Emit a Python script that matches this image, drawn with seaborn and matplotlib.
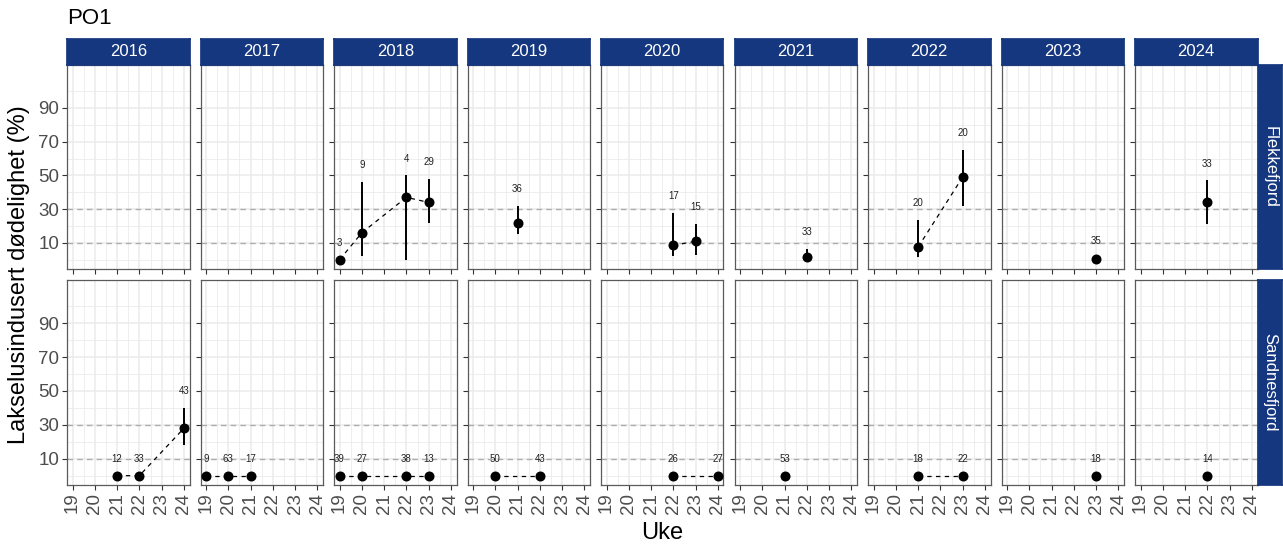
import matplotlib
matplotlib.use("Agg")
import matplotlib.pyplot as plt
import seaborn as sns
import pandas as pd

# ---------------- data ----------------
years = [2016, 2017, 2018, 2019, 2020, 2021, 2022, 2023, 2024]
locations = ["Flekkefjord", "Sandnesfjord"]
week_ticks = [19, 20, 21, 22, 23, 24]
y_ticks = [10, 30, 50, 70, 90]
ref_levels = [10, 30]

obs_location = (["Flekkefjord"] * 12) + (["Sandnesfjord"] * 19)
obs_year = [2018, 2018, 2018, 2018, 2019, 2020, 2020, 2021, 2022, 2022, 2023, 2024,
            2016, 2016, 2016, 2017, 2017, 2017, 2018, 2018, 2018, 2018,
            2019, 2019, 2020, 2020, 2021, 2022, 2022, 2023, 2024]
obs_week = [19, 20, 22, 23, 21, 22, 23, 22, 21, 23, 23, 22,
            21, 22, 24, 19, 20, 21, 19, 20, 22, 23,
            20, 22, 22, 24, 21, 21, 23, 23, 22]
mortality = [0, 16, 37, 34, 22, 8.5, 11, 1.5, 7.5, 49, 0.5, 34,
             0, 0, 28, 0, 0, 0, 0, 0, 0, 0,
             0, 0, 0, 0, 0, 0, 0, 0, 0]
ci_low = [0, 2, 0, 22, 15, 2, 3, 0, 1.5, 32, 0, 21,
          0, 0, 18, 0, 0, 0, 0, 0, 0, 0,
          0, 0, 0, 0, 0, 0, 0, 0, 0]
ci_high = [0, 46, 50, 48, 32, 28, 21, 6.4, 23.6, 65, 1.4, 47,
           0, 0, 40, 0, 0, 0, 0, 0, 0, 0,
           0, 0, 0, 0, 0, 0, 0, 0, 0]
n_fish = [3, 9, 4, 29, 36, 17, 15, 33, 20, 20, 35, 33,
          12, 33, 43, 9, 63, 17, 39, 27, 38, 13,
          50, 43, 26, 27, 53, 18, 22, 18, 14]

df = pd.DataFrame({"lokalitet": obs_location, "aar": obs_year, "uke": obs_week,
                   "dod": mortality, "lo": ci_low, "hi": ci_high, "n": n_fish})

# ---------------- style ----------------
sns.set_theme(style="white")
plt.rcParams["font.family"] = ["Liberation Sans", "DejaVu Sans"]

STRIP = "#15377F"
W, H = 1283, 545
fig = plt.figure(figsize=(W / 100, H / 100), dpi=100)


def rect(x0, y0, x1, y1):
    return [x0 / W, 1 - y1 / H, (x1 - x0) / W, (y1 - y0) / H]


left, pw, gap = 67.0, 122.5, 11.0
row_y = [(65, 269), (280, 485)]

for r, loc in enumerate(locations):
    y0, y1 = row_y[r]
    for c, yr in enumerate(years):
        x0 = left + c * (pw + gap)
        x1 = x0 + pw
        ax = fig.add_axes(rect(x0, y0, x1, y1))
        ax.set_facecolor("white")
        sub = df[(df.lokalitet == loc) & (df.aar == yr)].sort_values("uke")

        ax.set_xlim(18.75, 24.25)
        ax.set_ylim(-5.5, 115.5)
        ax.set_xticks(week_ticks)
        ax.set_xticks([19.5, 20.5, 21.5, 22.5, 23.5], minor=True)
        ax.set_yticks(y_ticks)
        ax.set_yticks([0, 20, 40, 60, 80, 100], minor=True)
        ax.grid(which="major", color="#EBEBEB", lw=1.1, zorder=0)
        ax.grid(which="minor", color="#EBEBEB", lw=0.6, zorder=0)
        ax.set_axisbelow(True)

        for lvl in ref_levels:
            ax.axhline(lvl, color="#ADADAD", lw=1.0, ls=(0, (4, 3)), zorder=1)

        if len(sub) > 1:
            sns.lineplot(data=sub, x="uke", y="dod", ax=ax, color="black",
                         lw=0.9, linestyle=(0, (3.5, 3.5)), estimator=None,
                         sort=True, legend=False, zorder=2)
        if len(sub) > 0:
            ax.vlines(sub["uke"], sub["lo"], sub["hi"], color="black", lw=1.4, zorder=3)
            sns.scatterplot(data=sub, x="uke", y="dod", ax=ax, color="black",
                            s=52, linewidth=0, legend=False, zorder=4)
            for _, row in sub.iterrows():
                ax.text(row["uke"], row["hi"] + 10, f"{int(row['n'])}",
                        ha="center", va="center", fontsize=7, color="#222222", zorder=5)

        ax.set_xlabel("")
        ax.set_ylabel("")
        for s in ax.spines.values():
            s.set_color("#5A5A5A")
            s.set_linewidth(0.9)
        ax.tick_params(axis="both", which="major", length=3.5, width=0.8,
                       color="#333333", labelsize=13.5, labelcolor="#4D4D4D", pad=2,
                       bottom=True, left=True)
        ax.tick_params(which="minor", length=0)
        if c == 0:
            ax.set_yticklabels([str(v) for v in y_ticks])
        else:
            ax.set_yticklabels([])
        if r == 1:
            ax.set_xticklabels([str(v) for v in week_ticks], rotation=90)
        else:
            ax.set_xticklabels([])

        # column strips
        if r == 0:
            sax = fig.add_axes(rect(x0, 39, x1, 65))
            sax.set_facecolor(STRIP)
            sax.set_xticks([]); sax.set_yticks([])
            for s in sax.spines.values():
                s.set_color(STRIP)
            sax.text(0.5, 0.5, str(yr), ha="center", va="center", color="white",
                     fontsize=12, transform=sax.transAxes)
    # row strip
    rax = fig.add_axes(rect(left + 9 * pw + 8 * gap, y0, 1282.5, y1))
    rax.set_facecolor(STRIP)
    rax.set_xticks([]); rax.set_yticks([])
    for s in rax.spines.values():
        s.set_color(STRIP)
    rax.text(0.5, 0.5, loc, ha="center", va="center", color="white",
             fontsize=12, rotation=-90, transform=rax.transAxes)

fig.text(67 / W, 1 - 19 / H, "PO1", ha="left", va="center", fontsize=16, color="black")
fig.text(662 / W, 1 - 533 / H, "Uke", ha="center", va="center", fontsize=17, color="black")
fig.text(19 / W, 1 - 275 / H, "Lakselusindusert dødelighet (%)", ha="center",
         va="center", rotation=90, fontsize=17, color="black")

fig.savefig("out.png", dpi=100)
